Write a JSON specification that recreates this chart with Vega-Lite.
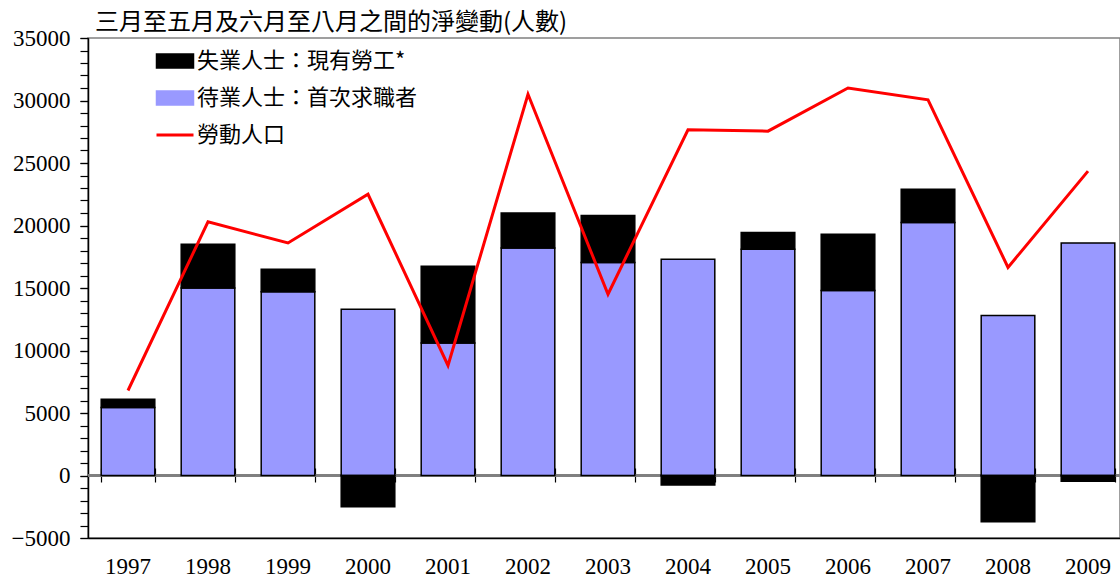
{
  "$schema": "https://vega.github.io/schema/vega-lite/v6.json",
  "width": 1032,
  "height": 500,
  "autosize": {"type": "none"},
  "padding": {"left": 88, "top": 38, "right": 0, "bottom": 40},
  "background": "white",
  "view": {"stroke": "#808080", "strokeWidth": 1.5},
  "config": {"axis": {"labelFont": "Liberation Serif", "labelFontSize": 23, "labelColor": "black"}},
  "title": {"text": "三月至五月及六月至八月之間的淨變動(人數)", "anchor": "start", "frame": "group", "dx": 7, "offset": -8, "font": "Noto Sans CJK TC", "fontSize": 24, "fontWeight": "normal", "color": "black"},
  "data": {"values": [
    {"year": "1997", "series": "待業人士：首次求職者", "value": 5450},
    {"year": "1997", "series": "失業人士：現有勞工*", "value": 650},
    {"year": "1997", "series": "勞動人口", "value": 6800},
    {"year": "1998", "series": "待業人士：首次求職者", "value": 15000},
    {"year": "1998", "series": "失業人士：現有勞工*", "value": 3500},
    {"year": "1998", "series": "勞動人口", "value": 20300},
    {"year": "1999", "series": "待業人士：首次求職者", "value": 14700},
    {"year": "1999", "series": "失業人士：現有勞工*", "value": 1800},
    {"year": "1999", "series": "勞動人口", "value": 18600},
    {"year": "2000", "series": "待業人士：首次求職者", "value": 13300},
    {"year": "2000", "series": "失業人士：現有勞工*", "value": -2500},
    {"year": "2000", "series": "勞動人口", "value": 22500},
    {"year": "2001", "series": "待業人士：首次求職者", "value": 10600},
    {"year": "2001", "series": "失業人士：現有勞工*", "value": 6150},
    {"year": "2001", "series": "勞動人口", "value": 8800},
    {"year": "2002", "series": "待業人士：首次求職者", "value": 18200},
    {"year": "2002", "series": "失業人士：現有勞工*", "value": 2800},
    {"year": "2002", "series": "勞動人口", "value": 30500},
    {"year": "2003", "series": "待業人士：首次求職者", "value": 17050},
    {"year": "2003", "series": "失業人士：現有勞工*", "value": 3750},
    {"year": "2003", "series": "勞動人口", "value": 14500},
    {"year": "2004", "series": "待業人士：首次求職者", "value": 17300},
    {"year": "2004", "series": "失業人士：現有勞工*", "value": -750},
    {"year": "2004", "series": "勞動人口", "value": 27650},
    {"year": "2005", "series": "待業人士：首次求職者", "value": 18100},
    {"year": "2005", "series": "失業人士：現有勞工*", "value": 1350},
    {"year": "2005", "series": "勞動人口", "value": 27550},
    {"year": "2006", "series": "待業人士：首次求職者", "value": 14800},
    {"year": "2006", "series": "失業人士：現有勞工*", "value": 4500},
    {"year": "2006", "series": "勞動人口", "value": 31000},
    {"year": "2007", "series": "待業人士：首次求職者", "value": 20250},
    {"year": "2007", "series": "失業人士：現有勞工*", "value": 2650},
    {"year": "2007", "series": "勞動人口", "value": 30050},
    {"year": "2008", "series": "待業人士：首次求職者", "value": 12800},
    {"year": "2008", "series": "失業人士：現有勞工*", "value": -3700},
    {"year": "2008", "series": "勞動人口", "value": 16650},
    {"year": "2009", "series": "待業人士：首次求職者", "value": 18600},
    {"year": "2009", "series": "失業人士：現有勞工*", "value": -450},
    {"year": "2009", "series": "勞動人口", "value": 24350}
  ]},
  "layer": [
    {
      "mark": {"type": "rule", "color": "#808080", "strokeWidth": 1.5},
      "encoding": {"y": {"datum": 0, "type": "quantitative", "axis": null}}
    },
    {
      "transform": [{"filter": "datum.series !== '勞動人口'"}],
      "mark": {"type": "bar", "stroke": "black", "strokeWidth": 1.5},
      "encoding": {
        "x": {"field": "year", "type": "ordinal", "scale": {"range": [0, 1040], "paddingInner": 0.33, "paddingOuter": 0.165},
          "axis": {"orient": "bottom", "title": null, "ticks": false, "labelAngle": 0, "labelFont": "Liberation Serif", "labelFontSize": 23, "labelColor": "black", "labelPadding": 17, "domainColor": "black", "domainWidth": 1.5}},
        "y": {"field": "value", "type": "quantitative", "stack": "zero",
          "scale": {"domain": [-5000, 35000], "nice": false},
          "axis": {"orient": "left", "title": null, "grid": false, "values": [-5000, 0, 5000, 10000, 15000, 20000, 25000, 30000, 35000],
            "format": "d", "labelFont": "Liberation Serif", "labelFontSize": 23, "labelColor": "black", "tickSize": 8, "tickColor": "black", "tickWidth": 1.2, "domainColor": "black", "domainWidth": 1.5, "labelPadding": 10, "labelOverlap": false, "labelBound": false, "labelFlush": false}},
        "color": {"field": "series", "type": "nominal",
          "scale": {"domain": ["失業人士：現有勞工*", "待業人士：首次求職者", "勞動人口"], "range": ["black", "#9999ff", "red"]},
          "legend": {"orient": "none", "legendX": 76, "legendY": 12, "title": null, "symbolSize": 1369, "labelFont": "Noto Sans CJK TC", "labelFontSize": 22, "labelColor": "black", "rowPadding": 15, "labelOffset": 11, "padding": 0, "labelLimit": 400,
            "encode": {"symbols": {"update": {
              "shape": {"signal": "datum.value === '勞動人口' ? 'M-1,0H1' : 'M-1,-0.38H1V0.38H-1Z'"},
              "fill": {"signal": "datum.value === '勞動人口' ? 'transparent' : (datum.value === '待業人士：首次求職者' ? '#9999ff' : 'black')"},
              "stroke": {"signal": "datum.value === '勞動人口' ? 'red' : 'black'"},
              "strokeWidth": {"signal": "datum.value === '勞動人口' ? 3 : 1.5"},
              "opacity": {"value": 1}
            }}}}},
        "order": {"field": "series", "sort": "descending"}
      }
    },
    {
      "transform": [{"filter": "datum.series === '勞動人口'"}],
      "mark": {"type": "line", "strokeWidth": 3},
      "encoding": {
        "x": {"field": "year", "type": "ordinal",
          "axis": {"orient": "top", "offset": -444, "title": null, "labels": false, "domain": false, "ticks": true, "tickBand": "extent", "tickSize": 14, "tickColor": "black", "tickWidth": 1.2}},
        "y": {"field": "value", "type": "quantitative",
          "axis": {"orient": "left", "title": null, "grid": false, "labels": false, "domain": false, "values": [-5000,-4000,-3000,-2000,-1000,0,1000,2000,3000,4000,5000,6000,7000,8000,9000,10000,11000,12000,13000,14000,15000,16000,17000,18000,19000,20000,21000,22000,23000,24000,25000,26000,27000,28000,29000,30000,31000,32000,33000,34000,35000], "tickSize": 8, "tickColor": "black", "tickWidth": 1.2}},
        "color": {"field": "series", "type": "nominal",
          "legend": {"orient": "none", "legendX": 76, "legendY": 12, "title": null, "symbolSize": 1369, "labelFont": "Noto Sans CJK TC", "labelFontSize": 22, "labelColor": "black", "rowPadding": 15, "labelOffset": 11, "padding": 0, "labelLimit": 400,
            "encode": {"symbols": {"update": {
              "shape": {"signal": "datum.value === '勞動人口' ? 'M-1,0H1' : 'M-1,-0.38H1V0.38H-1Z'"},
              "fill": {"signal": "datum.value === '勞動人口' ? 'transparent' : (datum.value === '待業人士：首次求職者' ? '#9999ff' : 'black')"},
              "stroke": {"signal": "datum.value === '勞動人口' ? 'red' : 'black'"},
              "strokeWidth": {"signal": "datum.value === '勞動人口' ? 3 : 1.5"},
              "opacity": {"value": 1}
            }}}}}
      }
    }
  ],
  "resolve": {"axis": {"x": "independent", "y": "independent"}}
}
